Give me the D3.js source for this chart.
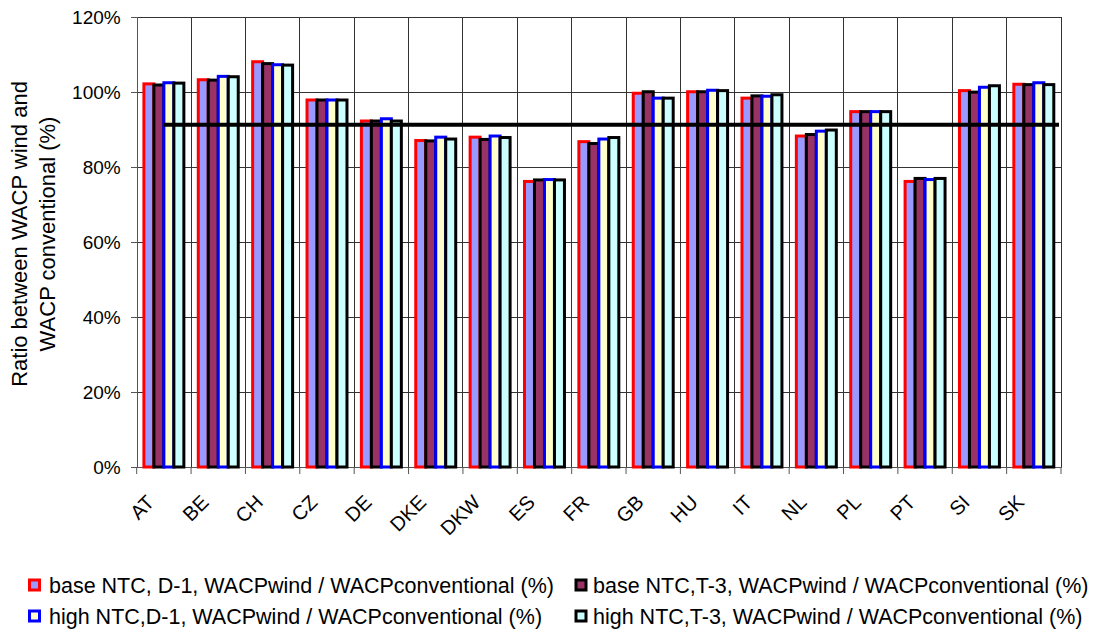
<!DOCTYPE html>
<html lang="en">
  <head>
    <meta charset="UTF-8" />
    <title>WACP wind / WACP conventional</title>
    <style>
      body {
        margin: 0;
        background: #fff;
      }
      svg text {
        font-family: Arial, 'Liberation Sans', sans-serif;
        fill: #000;
      }
      .grid line {
        stroke: #333;
        stroke-width: 1;
        shape-rendering: crispEdges;
      }
    </style>
  </head>
  <body>
    <div id="chart"></div>

    <script src="https://d3js.org/d3.v7.min.js"></script>
    <script>
      const categories = ['AT', 'BE', 'CH', 'CZ', 'DE', 'DKE', 'DKW', 'ES', 'FR', 'GB', 'HU', 'IT', 'NL', 'PL', 'PT', 'SI', 'SK'];

      const seriesNames = [
        'base NTC, D-1, WACPwind / WACPconventional (%)',
        'base NTC,T-3, WACPwind / WACPconventional (%)',
        'high NTC,D-1, WACPwind / WACPconventional (%)',
        'high NTC,T-3, WACPwind / WACPconventional (%)',
      ];

      const baseD1 = [102.1, 103.2, 108.0, 97.8, 92.2, 87.0, 87.9, 76.1, 86.7, 99.6, 100.0, 98.3, 88.2, 94.7, 76.1, 100.3, 102.0];
      const baseT3 = [101.8, 103.1, 107.5, 97.8, 92.2, 86.9, 87.3, 76.5, 86.2, 100.0, 100.0, 98.9, 88.6, 94.7, 76.9, 99.9, 101.9];
      const highD1 = [102.4, 104.1, 107.2, 97.8, 92.8, 87.9, 88.2, 76.6, 87.4, 98.3, 100.4, 98.8, 89.5, 94.7, 76.6, 101.2, 102.4];
      const highT3 = [102.3, 104.0, 107.1, 97.8, 92.2, 87.4, 87.8, 76.5, 87.8, 98.3, 100.3, 99.2, 89.8, 94.7, 76.9, 101.6, 101.9];

      const referenceValue = 91.2;
      const yTicks = [0, 20, 40, 60, 80, 100, 120];

      const fills = ['#9999ff', '#993366', '#ffffcc', '#ccffff'];
      const strokes = ['#ff0000', '#000000', '#0000ff', '#000000'];
      const seriesValues = [baseD1, baseT3, highD1, highT3];

      const W = 1093, H = 630;
      const plot = { left: 136.7, right: 1061, top: 16.7, bottom: 467 };

      const svg = d3.select('#chart').append('svg').attr('width', W).attr('height', H);

      const x0 = d3.scaleBand().domain(categories).range([plot.left, plot.right]);
      const bw = x0.bandwidth();
      const groupW = bw * 0.735;
      const x1 = d3
        .scaleBand()
        .domain(d3.range(seriesNames.length))
        .range([(bw - groupW) / 2, (bw + groupW) / 2]);
      const y = d3.scaleLinear().domain([0, 120]).range([plot.bottom, plot.top]);

      // gridlines
      const grid = svg.append('g').attr('class', 'grid');
      grid
        .selectAll('.h')
        .data(yTicks)
        .enter()
        .append('line')
        .attr('x1', plot.left)
        .attr('x2', plot.right)
        .attr('y1', (d) => Math.round(y(d)) + 0.5)
        .attr('y2', (d) => Math.round(y(d)) + 0.5);
      grid
        .selectAll('.v')
        .data(d3.range(1, categories.length + 1))
        .enter()
        .append('line')
        .attr('x1', (i) => plot.left + i * bw)
        .attr('x2', (i) => plot.left + i * bw)
        .attr('y1', plot.top)
        .attr('y2', plot.bottom);

      // y axis
      const yAxis = d3
        .axisLeft(y)
        .tickValues(yTicks)
        .tickSize(6)
        .tickFormat((d) => d + '%');
      const ya = svg
        .append('g')
        .attr('transform', `translate(${plot.left},0)`)
        .call(yAxis);
      ya.selectAll('path, line').attr('stroke', '#555').attr('shape-rendering', 'crispEdges');
      ya.selectAll('text').style('font-size', '19px').attr('x', -16).attr('dy', '0.36em');

      // x axis
      const xa = svg
        .append('g')
        .attr('transform', `translate(0,${plot.bottom})`)
        .call(d3.axisBottom(x0).tickSize(0).tickSizeOuter(0));
      xa.select('.domain').attr('stroke', '#555').attr('shape-rendering', 'crispEdges');
      xa.selectAll('.tick text')
        .style('font-size', '20px')
        .attr('text-anchor', 'end')
        .attr('transform', 'translate(-19,26) rotate(-45)')
        .attr('dy', '0.75em')
        .attr('y', 0);
      xa.selectAll('.bound')
        .data(d3.range(0, categories.length + 1))
        .enter()
        .append('line')
        .attr('x1', (i) => plot.left + i * bw)
        .attr('x2', (i) => plot.left + i * bw)
        .attr('y1', 0)
        .attr('y2', 7)
        .attr('stroke', '#555');

      // bars
      const groups = svg
        .append('g')
        .selectAll('g')
        .data(categories)
        .enter()
        .append('g')
        .attr('transform', (d) => `translate(${x0(d)},0)`);

      groups
        .selectAll('rect')
        .data((d, ci) => seriesValues.map((vals, si) => ({ si, v: vals[ci] })))
        .enter()
        .append('rect')
        .attr('x', (d) => x1(d.si))
        .attr('width', x1.bandwidth())
        .attr('y', (d) => y(d.v))
        .attr('height', (d) => y(0) - y(d.v))
        .attr('fill', (d) => fills[d.si])
        .attr('stroke', (d) => strokes[d.si])
        .attr('stroke-width', 3);

      // reference line
      svg
        .append('line')
        .attr('x1', x0(categories[0]) + bw / 2)
        .attr('x2', plot.right - 2)
        .attr('y1', y(referenceValue))
        .attr('y2', y(referenceValue))
        .attr('stroke', '#000')
        .attr('stroke-width', 4);

      // y title
      const yTitle = svg
        .append('text')
        .attr('transform', 'translate(27,234) rotate(-90)')
        .attr('text-anchor', 'middle')
        .style('font-size', '22px');
      yTitle.append('tspan').attr('x', 0).attr('dy', 0).text('Ratio between WACP wind and');
      yTitle.append('tspan').attr('x', 0).attr('dy', '1.27em').text('WACP conventional (%)');

      // legend: marker centre x, text x, row y
      const legendPos = [
        [34.5, 49, 585],
        [581, 593, 585],
        [34.5, 49, 616],
        [581, 593, 616],
      ];
      const legend = svg
        .append('g')
        .selectAll('g')
        .data(seriesNames)
        .enter()
        .append('g')
        .attr('transform', (d, i) => `translate(0,${legendPos[i][2]})`);
      legend
        .append('rect')
        .attr('x', (d, i) => legendPos[i][0] - 5)
        .attr('y', -5)
        .attr('width', 10)
        .attr('height', 10)
        .attr('fill', (d, i) => fills[i])
        .attr('stroke', (d, i) => strokes[i])
        .attr('stroke-width', 3);
      legend
        .append('text')
        .attr('x', (d, i) => legendPos[i][1])
        .attr('dy', '0.36em')
        .style('font-size', '21.5px')
        .text((d) => d);
    </script>
  </body>
</html>
